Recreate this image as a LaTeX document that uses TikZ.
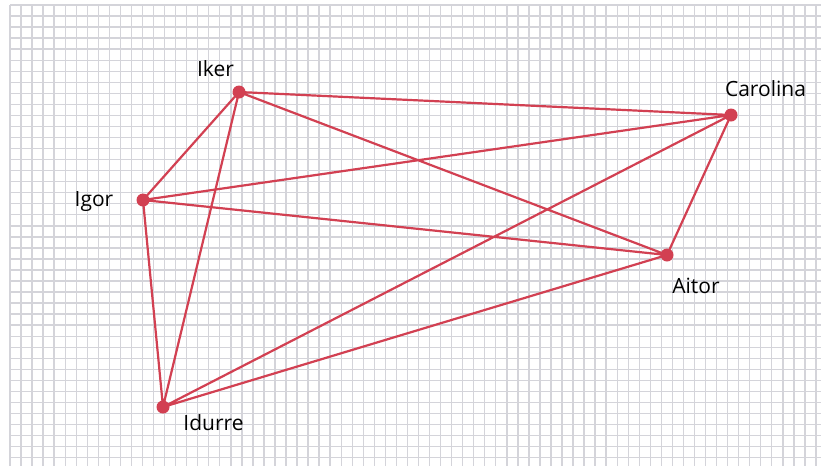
\documentclass[tikz,border=0pt]{standalone}
\usepackage{fontspec}
\setmainfont{Open Sans}
\definecolor{netred}{RGB}{210,64,82}
\definecolor{gridgray}{RGB}{212,212,218}
\tikzset{
  person/.style={circle,fill=netred,inner sep=0pt,minimum size=13pt},
  personlabel/.style={text=black,font=\fontsize{21}{24}\selectfont,inner sep=0pt,anchor=base},
  link/.style={netred,line width=2.2pt}
}
\begin{document}
\begin{tikzpicture}[x=1pt,y=-1pt]
                \useasboundingbox (0,0) rectangle (821,466);
                \fill[white] (0,0) rectangle (821,466);
                \scope[gridgray,line width=1.4pt]
                \foreach \gx in {0,...,73}
                  \draw (10+11.04*\gx,5) -- (10+11.04*\gx,466);
                \foreach \gy in {0,...,41}
                  \draw (10,5+11.04*\gy) -- (821,5+11.04*\gy);
                \endscope
                \node[person] (iker)     at (239,92)  {};
                \node[person] (carolina) at (731,115) {};
                \node[person] (igor)     at (143,200) {};
                \node[person] (aitor)    at (667,255) {};
                \node[person] (idurre)   at (163,407) {};
                \draw[link] (iker.center) -- (carolina.center)
                            (iker.center) -- (igor.center)
                            (iker.center) -- (idurre.center)
                            (iker.center) -- (aitor.center)
                            (igor.center) -- (carolina.center)
                            (igor.center) -- (aitor.center)
                            (igor.center) -- (idurre.center)
                            (carolina.center) -- (aitor.center)
                            (carolina.center) -- (idurre.center)
                            (aitor.center) -- (idurre.center);
                \node[personlabel] (ikername)     at (215.5,76.5)  {Iker};
                \node[personlabel] (carolinaname) at (765.5,96)    {Carolina};
                \node[personlabel] (igorname)     at (94,206.5)    {Igor};
                \node[personlabel] (aitorname)    at (696,293)     {Aitor};
                \node[personlabel] (idurrename)   at (213.5,430.5) {Idurre};
            \end{tikzpicture}
\end{document}
